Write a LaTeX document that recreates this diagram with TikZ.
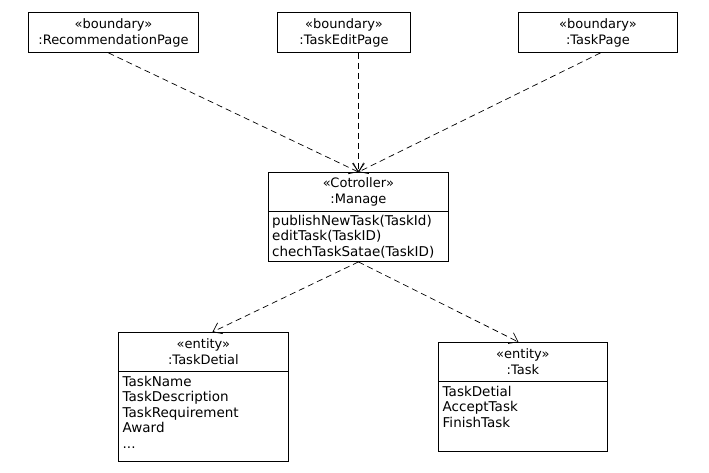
\documentclass[tikz,border=0pt]{standalone}
\usepackage{fontspec}
\setmainfont{DejaVu Sans}
\usetikzlibrary{arrows.meta,calc}
\begin{document}
\begin{tikzpicture}[x=1pt,y=-1pt,
  box/.style={draw, line width=0.9pt, inner sep=0pt, anchor=north west},
  hdr/.style={align=center, font=\fontsize{13}{16}\selectfont, inner sep=0pt},
  body/.style={align=left, font=\fontsize{13.5}{15.5}\selectfont, inner sep=0pt, anchor=north west},
  dep/.style={line width=0.7pt, dash pattern=on 6pt off 4pt, -{Straight Barb[length=8pt,width=12pt]}}]
\useasboundingbox (0,0) rectangle (709,473);
\fill[white] (0,0) rectangle (709,473);
% top boundaries
\node[box, minimum width=170pt, minimum height=40pt] (rec) at (28,12) {};
\node[hdr] (rect) at (rec.center) {«boundary»\\:RecommendationPage};
\node[box, minimum width=133pt, minimum height=40pt] (edit) at (277,12) {};
\node[hdr] (editt) at (edit.center) {«boundary»\\:TaskEditPage};
\node[box, minimum width=159pt, minimum height=40pt] (page) at (518,12) {};
\node[hdr] (paget) at (page.center) {«boundary»\\:TaskPage};
% controller
\node[box, minimum width=180pt, minimum height=89pt] (man) at (268,172) {};
\node[hdr] (mant) at ($(man.north)+(0,20)$) {«Cotroller»\\:Manage};
\draw[line width=0.9pt] ($(man.north west)+(0,39.5)$) -- ($(man.north east)+(0,39.5)$);
\node[body] (manb) at ($(man.north west)+(4,43)$) {publishNewTask(TaskId)\\editTask(TaskID)\\chechTaskSatae(TaskID)};
% entities
\node[box, minimum width=170pt, minimum height=129pt] (det) at (118,332) {};
\node[hdr] (dett) at ($(det.north)+(0,20)$) {«entity»\\:TaskDetial};
\draw[line width=0.9pt] ($(det.north west)+(0,39.5)$) -- ($(det.north east)+(0,39.5)$);
\node[body] (detb) at ($(det.north west)+(4.5,44)$) {TaskName\\TaskDescription\\TaskRequirement\\Award\\...};
\node[box, minimum width=169pt, minimum height=109pt] (task) at (438,342) {};
\node[hdr] (taskt) at ($(task.north)+(0,20)$) {«entity»\\:Task};
\draw[line width=0.9pt] ($(task.north west)+(0,39.5)$) -- ($(task.north east)+(0,39.5)$);
\node[body] (taskb) at ($(task.north west)+(4.5,44)$) {TaskDetial\\AcceptTask\\FinishTask};
% dependencies
\draw[dep] ([xshift=-5pt]rec.south) -- (man.north);
\draw[dep] (edit.south -| man.north) -- (man.north);
\draw[dep] ([xshift=2.5pt]page.south) -- (man.north);
\draw[dep] (man.south) -- ([xshift=9pt]det.north);
\draw[dep] (man.south) -- ([xshift=-4.5pt]task.north);
\end{tikzpicture}
\end{document}
